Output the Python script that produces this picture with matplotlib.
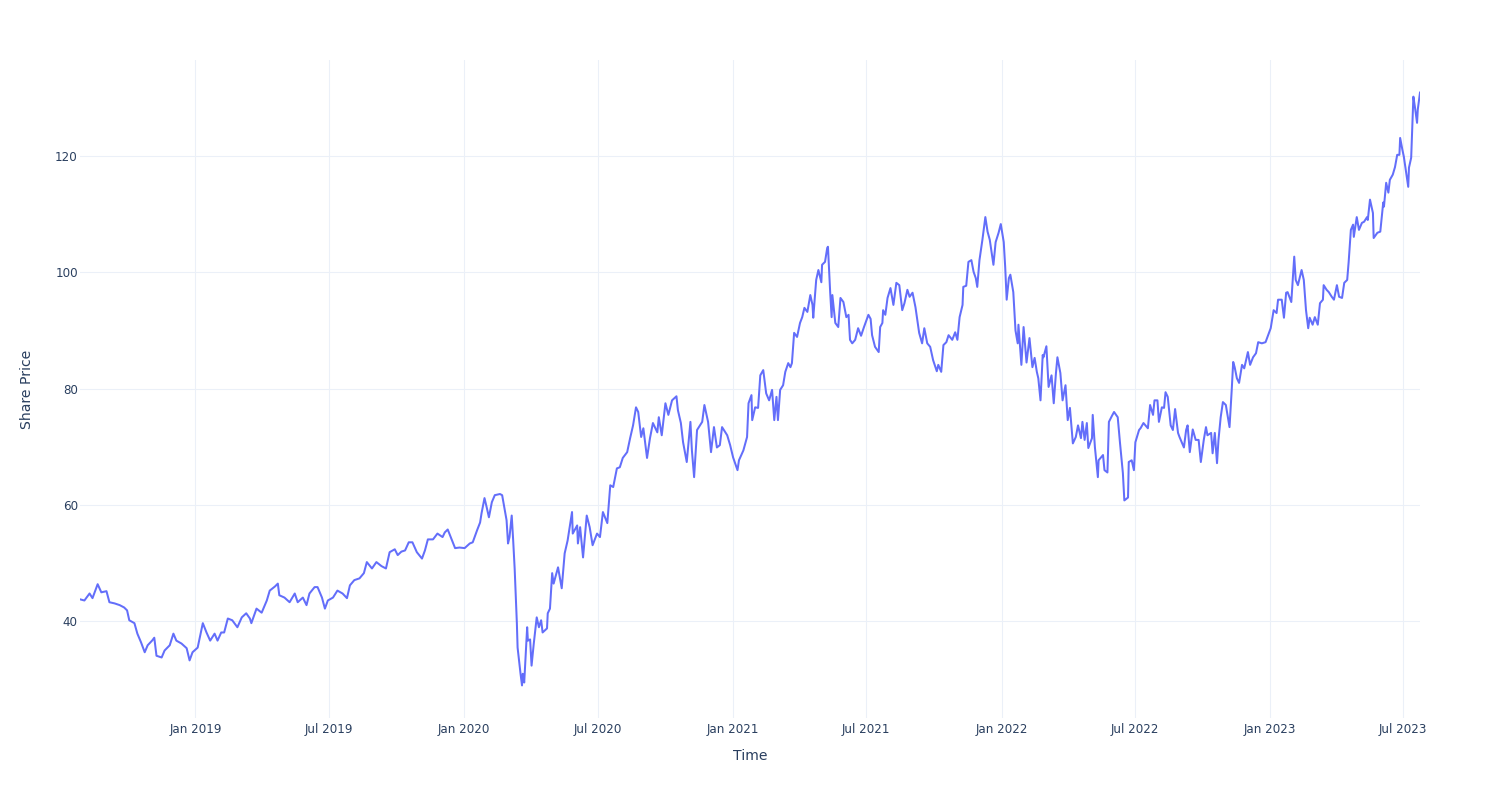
import pandas as pd
import matplotlib
matplotlib.use("Agg")
import matplotlib.pyplot as plt
import matplotlib.dates as mdates

day_offsets = [
    -157, -151, -144, -140, -133, -128, -121, -117, -110, -103, -97, -93, -90, -83, -79, -74, -69, -65, -59, -56,
    -53, -46, -42, -35, -30, -26, -19, -12, -8, -4, 3, 10, 15, 20, 26, 30, 35, 39, 44, 50, 57, 63, 69, 74,
    76, 83, 90, 97, 101, 108, 112, 114, 121, 128, 135, 139, 146, 151, 155, 162, 166, 172, 176, 180,
    187, 193, 200, 206, 210, 216, 223, 229, 233, 240, 246, 253, 259, 264, 271, 275, 280, 285, 290, 295, 301, 308, 312,
    316, 323, 329, 336, 339, 343, 349, 353, 359, 366, 373, 377, 383, 387, 389, 393, 396, 399, 403, 407,
    414, 417, 419, 423, 425, 427, 430, 432, 434, 437, 438, 442, 444, 445, 447, 451, 452, 455, 457, 460,
    464, 467, 470, 472, 478, 479, 482, 485, 487, 493, 498, 502,
    506, 512, 513, 519, 520, 523, 527, 532, 536, 540, 546, 550, 554, 560, 564, 568, 573, 577, 581, 587,
    591, 595, 599, 602, 606, 609, 614, 618, 622, 628, 630, 634, 639, 643, 648, 654, 656, 660, 663, 668,
    673, 675, 678, 682, 689, 692, 697, 701, 705, 709, 713, 716, 723, 727, 731, 737, 739, 745, 750, 752,
    756, 757, 761, 765, 768, 772, 776, 780, 784, 787, 790, 792, 795, 799, 802, 806, 809, 811, 814, 818,
    822, 825, 828, 832, 836, 839, 840, 844, 847, 851, 852, 856, 859, 860, 863, 865, 866, 870, 874, 877,
    881, 885, 888, 890, 893, 897, 901, 905, 909, 915, 918, 920, 924, 929, 931,
    934, 935, 938, 941, 945, 949, 953, 957, 961, 964, 968, 971, 975, 979, 982, 984, 988, 991, 995, 999,
    1003, 1008, 1010, 1014, 1017, 1021, 1024, 1029, 1033, 1036, 1039, 1043, 1044, 1048, 1051, 1055, 1058, 1061, 1063, 1066,
    1070, 1074, 1077, 1080, 1085, 1088, 1092, 1095, 1099, 1101, 1103, 1106, 1108, 1112, 1115, 1118, 1119, 1123, 1126, 1130,
    1134, 1138, 1141, 1144, 1146, 1149, 1152, 1153, 1157, 1160, 1164, 1167, 1170, 1172, 1176, 1179, 1183, 1186, 1189, 1193,
    1197, 1200, 1204, 1206, 1209, 1212, 1214, 1219, 1220, 1223, 1227, 1228, 1234, 1236, 1240, 1242, 1246, 1249, 1254, 1257,
    1261, 1263, 1268, 1269, 1273, 1276, 1278,
    1283, 1285, 1289, 1295, 1298, 1302, 1304, 1308, 1310, 1314, 1317, 1319, 1322, 1326, 1329, 1332, 1336, 1338, 1344, 1347,
    1349, 1352, 1356, 1360, 1364, 1367, 1371, 1374, 1376, 1381, 1383, 1386, 1389, 1391, 1394, 1397, 1401, 1404, 1406, 1409,
    1411, 1413, 1416, 1419, 1423, 1426, 1431, 1434, 1438, 1442, 1445, 1450, 1455, 1462,
    1466, 1470, 1472, 1477, 1480, 1483, 1485, 1490, 1494, 1496, 1499, 1504, 1507, 1510, 1513, 1515, 1519, 1522, 1526, 1529,
    1533, 1534, 1538, 1541, 1545, 1548, 1552, 1555, 1559, 1562, 1566, 1568, 1571, 1574, 1575, 1579, 1582, 1586, 1589, 1593,
    1594, 1597, 1601, 1602, 1607, 1611, 1615, 1616, 1619, 1622, 1624, 1628, 1631, 1634, 1637, 1638, 1641, 1643, 1646, 1649,
    1650, 1653, 1656, 1658, 1661, 1662, 1665,
]

share_price = [
    43.8, 43.6, 44.8, 44.0, 46.4, 45.0, 45.2, 43.3, 43.1, 42.8, 42.4, 41.9, 40.2, 39.7, 37.9, 36.4, 34.7, 35.9, 36.7, 37.2,
    34.1, 33.8, 35.0, 35.9, 37.9, 36.7, 36.2, 35.4, 33.3, 34.7, 35.5, 39.7, 38.1, 36.7, 37.9, 36.7, 38.1, 38.1, 40.5, 40.2, 39.0, 40.7, 41.4, 40.5,
    39.7, 42.2, 41.5, 43.6, 45.3, 46.0, 46.5, 44.5, 44.1, 43.3, 44.8, 43.3, 44.1, 42.8, 44.8, 45.9, 45.9, 44.1, 42.2, 43.6,
    44.1, 45.3, 44.8, 44.0, 46.2, 47.1, 47.4, 48.3, 50.2, 49.1, 50.2, 49.5, 49.1, 51.9, 52.4, 51.4, 52.0, 52.2, 53.6, 53.6, 51.9, 50.8, 52.2,
    54.1, 54.1, 55.1, 54.5, 55.3, 55.8, 53.9, 52.6, 52.7, 52.6, 53.4, 53.6, 55.7, 57.0, 58.6, 61.2, 59.6, 57.9, 60.5, 61.7,
    61.9, 61.7, 60.3, 57.4, 53.4, 54.5, 58.2, 53.9, 49.1, 39.7, 35.5, 31.0, 29.0, 31.0, 29.5, 39.0, 36.7, 36.9, 32.4, 36.2,
    40.7, 39.0, 40.2, 38.1, 38.8, 41.4, 42.2, 48.3, 46.5, 49.3, 45.7, 51.7,
    53.9, 58.8, 55.1, 56.5, 53.4, 56.2, 51.0, 58.2, 56.2, 53.1, 55.1, 54.5, 58.8, 56.9, 63.4, 63.1, 66.3, 66.5, 68.1, 69.1,
    71.5, 73.7, 76.8, 76.0, 71.7, 73.2, 68.1, 71.5, 74.1, 72.5, 75.1, 72.0, 77.5, 75.5, 78.0, 78.7, 76.3, 74.1, 70.8, 67.4,
    74.3, 69.4, 64.8, 72.9, 74.3, 77.2, 74.3, 69.1, 73.4, 69.9, 70.3, 73.4, 72.0, 70.3, 68.2, 66.0, 67.7, 69.4, 71.7, 77.5,
    78.9, 74.6, 76.8, 76.7, 82.3, 83.2, 79.2, 78.0, 79.8, 74.6, 78.6, 74.6, 79.8, 80.6, 82.9, 84.4, 83.7, 84.4, 89.6, 88.9,
    91.3, 92.3, 93.9, 93.2, 96.1, 94.4, 92.2, 98.7, 100.4, 98.3, 101.3, 101.8, 104.2, 104.4, 96.6, 92.3, 96.1, 91.3, 90.6, 95.6,
    94.9, 92.3, 92.7, 88.4, 87.8, 88.4, 90.4, 89.1, 90.6, 92.7, 92.0, 89.2, 87.2, 86.3, 90.6,
    91.3, 93.5, 92.7, 95.6, 97.3, 94.4, 98.2, 97.8, 93.5, 94.7, 97.0, 95.8, 96.5, 94.0, 91.3, 89.6, 87.8, 90.4, 87.8, 87.2,
    84.9, 83.0, 84.1, 82.9, 87.5, 88.0, 89.2, 88.4, 89.7, 88.4, 92.3, 94.4, 97.5, 97.7, 101.8, 102.1, 100.1, 99.0, 97.5, 102.1,
    105.6, 109.5, 107.0, 105.6, 101.3, 105.2, 106.8, 108.3, 105.2, 100.9, 95.3, 99.0, 99.6, 96.6, 90.0, 87.8, 91.0, 84.1, 90.6, 84.5,
    88.7, 83.7, 85.3, 82.9, 81.8, 78.0, 85.8, 85.4, 87.3, 80.3, 82.3, 77.5, 82.7, 85.4, 82.7, 78.0, 80.6, 74.6, 76.7, 70.6,
    71.7, 73.7, 71.5, 74.3, 71.2, 74.1, 69.8, 71.5, 75.5, 69.9, 64.8, 67.7, 68.6, 66.0, 65.6, 74.3, 75.3, 76.0, 75.1, 70.8,
    65.5, 60.8, 61.3, 67.4, 67.7, 66.0, 70.8,
    72.9, 73.2, 74.1, 73.2, 77.2, 75.5, 78.0, 78.0, 74.3, 76.8, 76.7, 79.4, 78.6, 73.7, 72.9, 76.5, 72.4, 71.7, 69.9, 72.9,
    73.7, 69.1, 73.0, 71.2, 71.2, 67.4, 71.2, 73.4, 72.0, 72.4, 68.9, 72.4, 67.2, 71.2, 75.1, 77.7, 77.2, 74.9, 73.4, 79.8,
    84.6, 83.7, 81.8, 81.0, 84.1, 83.5, 86.3, 84.1, 85.4, 86.1, 88.0, 87.8, 88.0, 90.4,
    93.5, 93.0, 95.3, 95.3, 92.2, 96.5, 96.6, 94.9, 102.7, 98.7, 97.8, 100.4, 98.7, 93.5, 90.4, 92.2, 91.0, 92.3, 91.0, 94.7,
    95.3, 97.8, 97.0, 96.6, 95.8, 95.3, 97.8, 95.8, 95.6, 98.2, 98.7, 101.8, 107.3, 108.2, 106.1, 109.5, 107.3, 108.5, 108.7, 109.5,
    109.0, 112.5, 110.2, 105.9, 106.8, 107.0, 112.0, 111.3, 115.4, 113.7, 115.9, 116.8, 118.1, 120.2, 120.2, 123.1, 121.1, 119.9, 117.3, 114.7,
    118.0, 119.7, 130.2, 128.5, 125.7, 128.0, 130.9,
]

y_ticks = [40, 60, 80, 100, 120]

assert len(day_offsets) == len(share_price)

dates = pd.Timestamp("2019-01-01") + pd.to_timedelta(day_offsets, unit="D")

text_color = "#2a3f5f"
grid_color = "#EBF0F8"

fig = plt.figure(figsize=(15, 8), dpi=100)
ax = fig.add_axes([80 / 1500, 82 / 800, 1340 / 1500, 658 / 800])

ax.plot(dates, share_price, color="#636EFA", lw=1.45, solid_joinstyle="round")

ax.set_xlim(dates[0], dates[-1])
ax.set_ylim(23.4, 136.5)

ax.xaxis.set_major_locator(mdates.MonthLocator(bymonth=[1, 7]))
ax.xaxis.set_major_formatter(mdates.DateFormatter("%b %Y"))
ax.set_yticks(y_ticks)

ax.grid(color=grid_color, lw=0.75)
ax.set_axisbelow(True)
for s in ax.spines.values():
    s.set_visible(False)

ax.tick_params(axis="x", length=0, labelsize=8.6, colors=text_color, pad=3.8)
ax.tick_params(axis="y", length=0, labelsize=8.6, colors=text_color, pad=1.5)

ax.set_xlabel("Time", fontsize=10.1, color=text_color, va="center")
ax.set_ylabel("Share Price", fontsize=10.1, color=text_color, va="center")
ax.xaxis.set_label_coords(0.5, -(756 - 718) / 658)
ax.yaxis.set_label_coords(-(80 - 27) / 1340, 0.5)

fig.savefig("out.png", dpi=100)
